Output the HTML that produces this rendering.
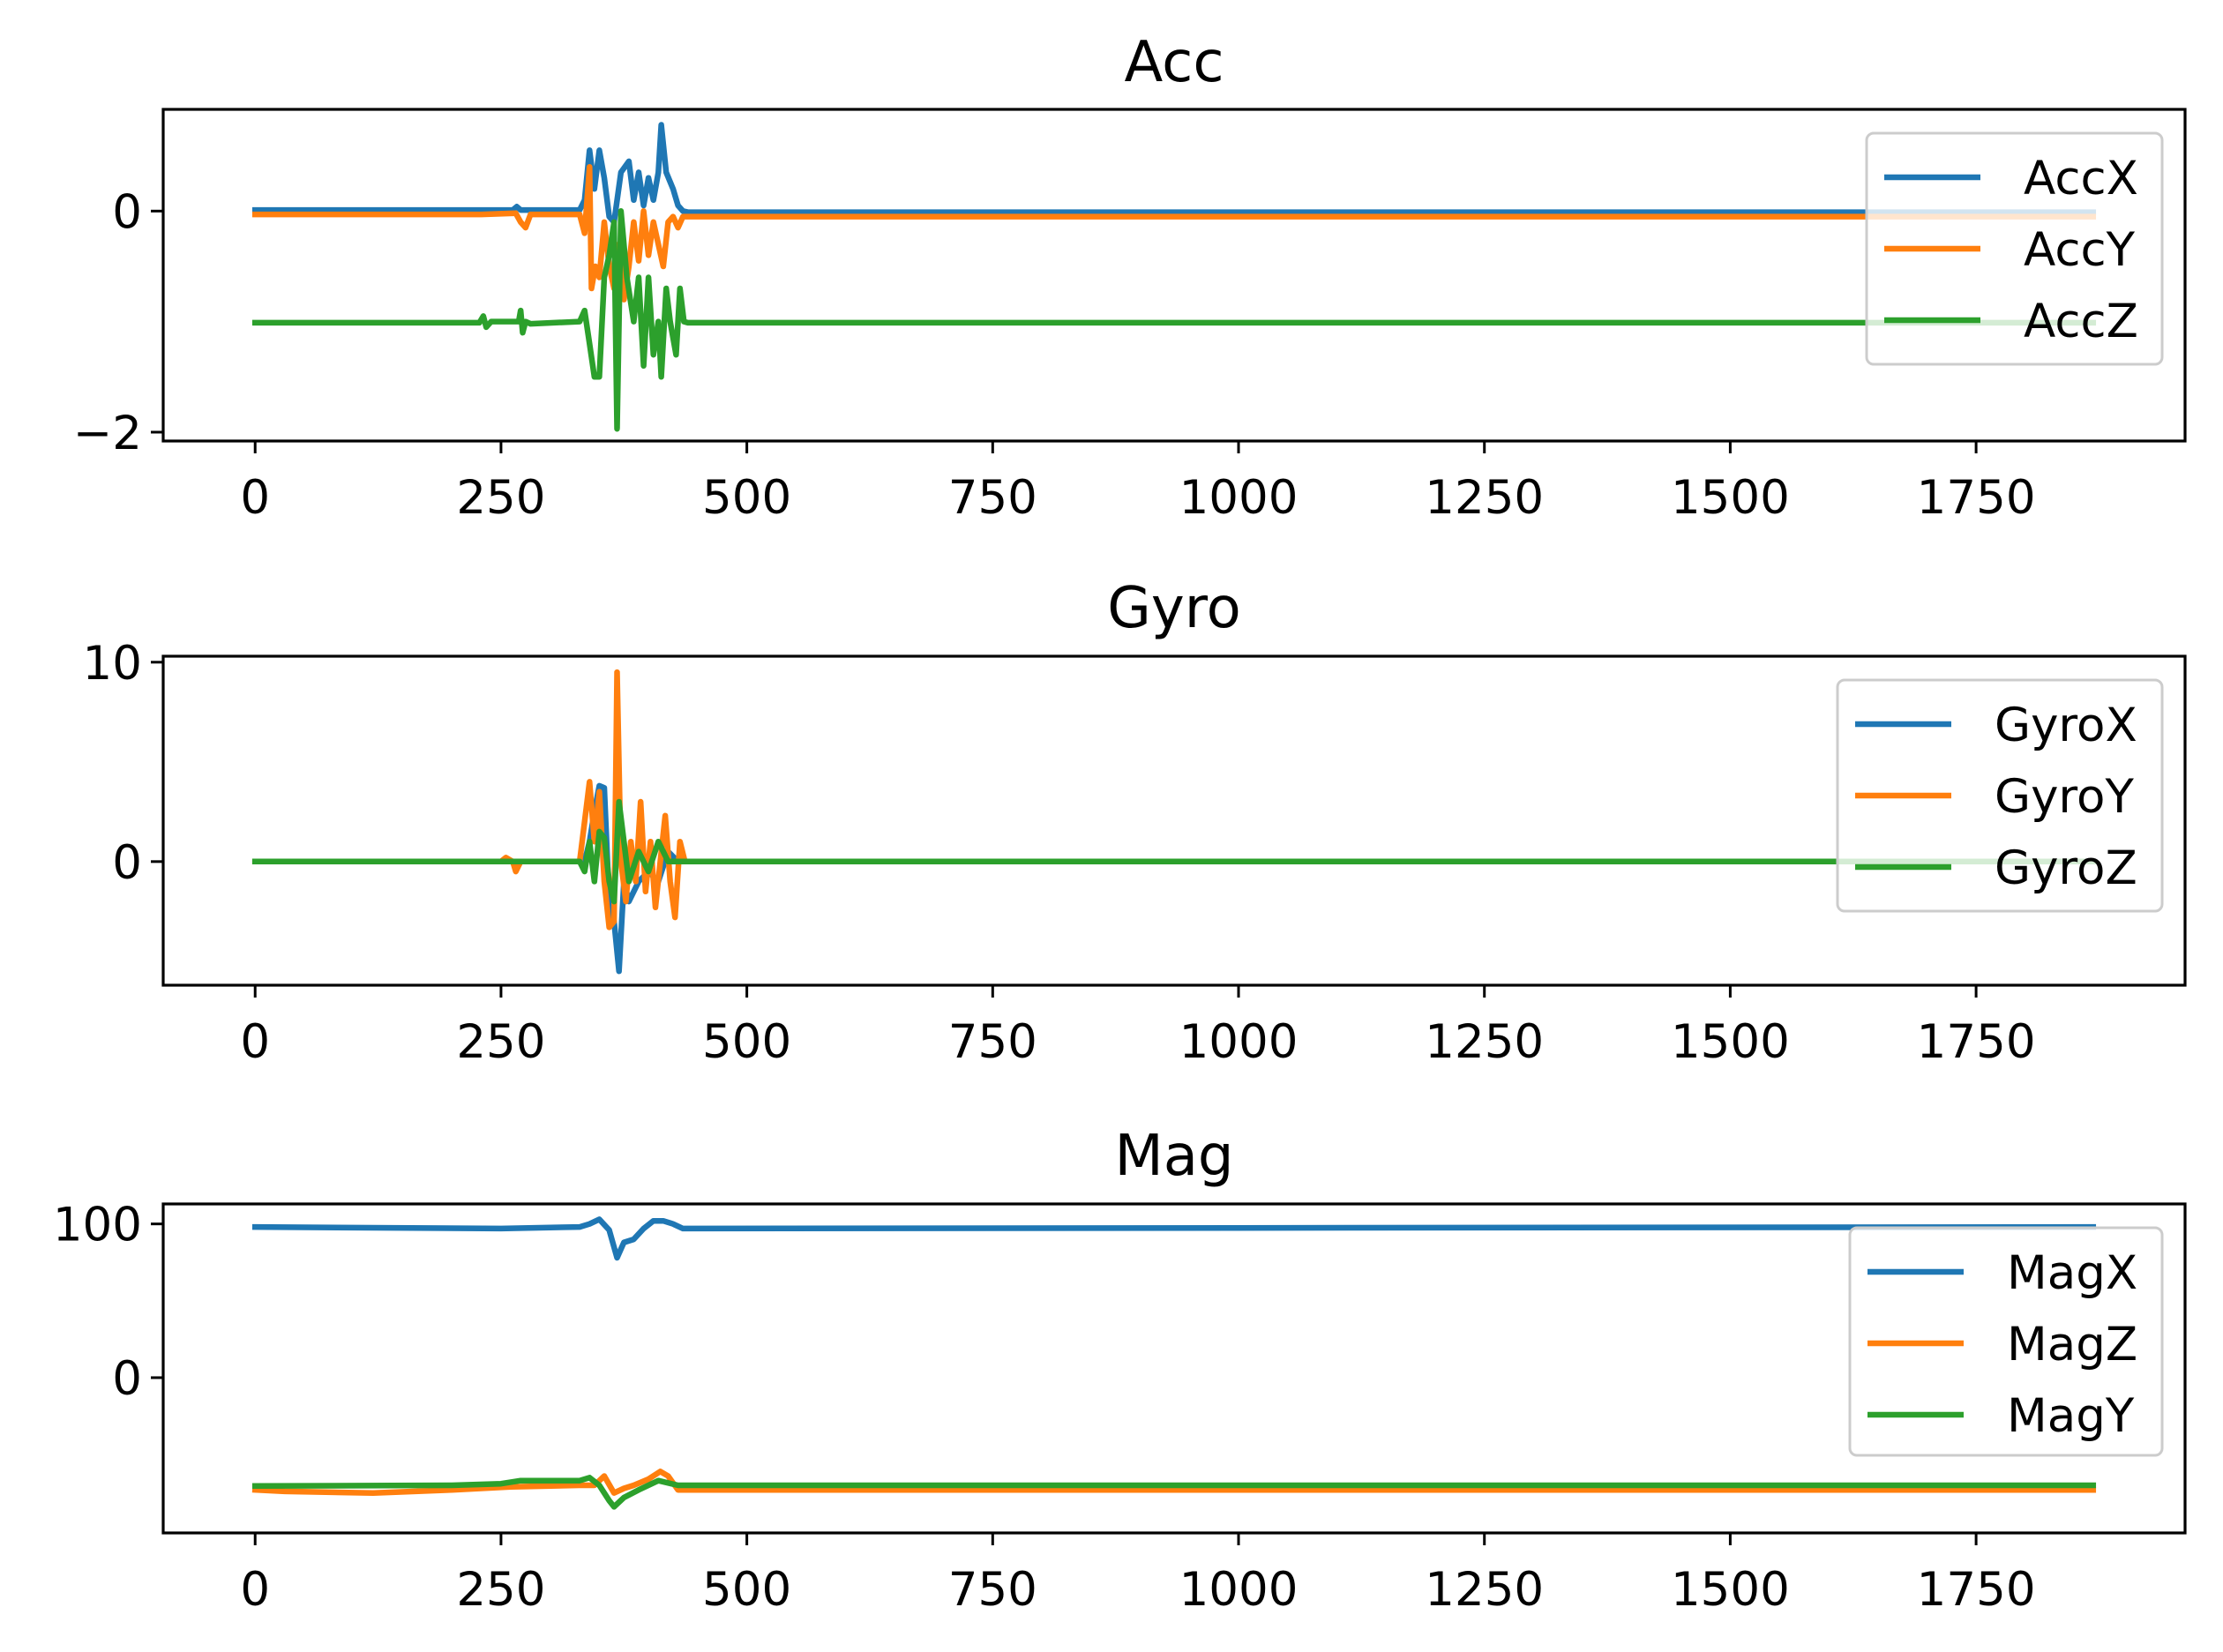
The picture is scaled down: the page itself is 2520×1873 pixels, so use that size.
<!DOCTYPE html>
<html><head><meta charset="utf-8"><style>
html,body{margin:0;padding:0;background:#fff;}
svg{display:block;font-family:"DejaVu Sans","Liberation Sans",sans-serif;}
</style></head><body>
<svg id="chart" width="2520" height="1873" viewBox="0 0 2520 1873" xmlns="http://www.w3.org/2000/svg"></svg>
<script>
// ---- data ----
const N = 1870;
const xTicks = [0, 250, 500, 750, 1000, 1250, 1500, 1750];
// Acc
const accTitle = "Acc";
const accNames = ["AccX", "AccY", "AccZ"];
const accBase = [[0.01, -0.01], [-0.03, -0.05], [-1.01, -1.01]];
const accXk = [230,262,266,270,330,335,340,345,350,355,360,365,372,380,385,390,395,400,405,410,413,418,425,430,435,440];
const accXv = [0.01,0.01,0.04,0.01,0.01,0.1,0.55,0.2,0.55,0.3,-0.05,-0.1,0.35,0.45,0.1,0.35,0.05,0.3,0.1,0.35,0.78,0.35,0.2,0.05,0.0,-0.01];
const accYk = [230,265,270,275,280,330,335,340,342,346,350,355,360,365,370,375,380,385,390,395,400,405,410,415,420,425,430,435,440];
const accYv = [-0.03,-0.02,-0.1,-0.15,-0.03,-0.03,-0.2,0.4,-0.7,-0.5,-0.6,-0.1,-0.5,-0.7,-0.3,-0.8,-0.5,-0.1,-0.45,0.0,-0.4,-0.1,-0.3,-0.5,-0.1,-0.05,-0.15,-0.05,-0.05];
const accZk = [228,232,235,240,268,270,272,275,280,330,335,340,345,350,355,360,365,368,372,378,385,390,395,400,405,410,413,418,422,428,432,436,440];
const accZv = [-1.01,-0.95,-1.05,-1.0,-1.0,-0.9,-1.1,-1.0,-1.02,-1.0,-0.9,-1.2,-1.5,-1.5,-0.6,-0.4,-0.1,-1.97,0.0,-0.6,-1.0,-0.6,-1.4,-0.6,-1.3,-1.0,-1.5,-0.7,-1.0,-1.3,-0.7,-1.0,-1.01];
const accTicks = [0, -2];
// Gyro
const gyroTitle = "Gyro";
const gyroNames = ["GyroX", "GyroY", "GyroZ"];
const gyroBase = [[0,0],[0,0],[0,0]];
const gyroXk = [335,340,345,350,355,360,365,370,375,380,390,400,410,420,430];
const gyroXv = [0,1,2.5,3.8,3.7,-2,-3,-5.5,-1,-2,-1,-0.5,-1,0.5,0];
const gyroYk = [250,255,262,265,270,330,335,340,345,350,355,360,365,368,372,377,382,387,392,397,402,407,412,417,422,427,432,437];
const gyroYv = [0,0.2,0,-0.5,0,0,2,4,1,3.5,-1,-3.3,-3,9.5,0,-2,1,-1,3,-1.5,1,-2.3,0,2.3,-1,-2.8,1,0];
const gyroZk = [330,335,340,345,350,355,360,365,370,375,380,390,400,410,420];
const gyroZv = [0,-0.5,1,-1,1.5,1.2,-1,-2,3,1,-1,0.5,-0.5,1,0];
const gyroTicks = [10, 0];
// Mag
const magTitle = "Mag";
const magNames = ["MagX", "MagZ", "MagY"];
const magBase = [[98,98],[-73,-73],[-70.5,-70]];
const magXk = [250,330,340,350,360,368,375,385,395,405,415,425,435];
const magXv = [97,98,100,103,96,78,88,90,97,102,102,100,97];
const magZk = [30,120,200,260,330,345,355,365,375,385,400,412,420,430];
const magZv = [-74,-75,-73,-71,-70,-70,-64,-75,-72,-70,-66,-61,-64,-73];
const magYk = [200,250,270,330,340,350,360,365,375,390,410,430];
const magYv = [-70,-69,-67,-67,-65,-70,-80,-84,-78,-73,-67,-70];
const magTicks = [100, 0];
</script>
<script>
const NS = "http://www.w3.org/2000/svg";
const svg = document.getElementById("chart");
const colors = ["#1f77b4", "#ff7f0e", "#2ca02c"];
const AX_L = 185, AX_R = 2477;
const xMin = -93.5, xMax = 1962.5;
function sx(v){ return AX_L + (v - xMin) / (xMax - xMin) * (AX_R - AX_L); }
function mk(tag, attrs, parent){
  const e = document.createElementNS(NS, tag);
  for (const k in attrs) e.setAttribute(k, attrs[k]);
  (parent || svg).appendChild(e);
  return e;
}
function series(keys, vals, base){
  const pts = [];
  pts.push([0, base[0]]);
  for (let i = 0; i < keys.length; i++) pts.push([keys[i], vals[i]]);
  pts.push([N-1, base[1]]);
  return pts;
}
function panel(cfg){
  const {top, bottom, yMin, yMax, title, titleY, names, base, ks, vs, ticks, leg} = cfg;
  const sy = v => bottom - (v - yMin) / (yMax - yMin) * (bottom - top);
  const g = mk("g", {});
  
  
  const clipId = "clip-" + title;
  const cp = mk("clipPath", {id: clipId}, g);
  mk("rect", {x: AX_L, y: top, width: AX_R-AX_L, height: bottom-top}, cp);
  const t = mk("text", {x: (AX_L+AX_R)/2, y: titleY, "text-anchor": "middle", "font-size": 64, fill: "#000"}, g);
  t.textContent = title;
  
  
  const lg = mk("g", {"clip-path": "url(#" + clipId + ")"}, g);
  for (let s = 0; s < 3; s++){
    const pts = series(ks[s], vs[s], base[s]);
    const d = pts.map((p,i) => (i ? "L" : "M") + sx(p[0]).toFixed(1) + " " + sy(p[1]).toFixed(1)).join(" ");
    const p = mk("path", {d, fill: "none", stroke: colors[s], "stroke-width": 6.5, "stroke-linejoin": "round", "stroke-linecap": "square"}, lg);
    
    
  }
  const fr = mk("rect", {x: AX_L, y: top, width: AX_R-AX_L, height: bottom-top, fill: "none", stroke: "#000", "stroke-width": 3.2}, g);
  
  
  xTicks.forEach(v => {
    const x = sx(v);
    mk("line", {x1: x, x2: x, y1: bottom, y2: bottom+14, stroke: "#000", "stroke-width": 3}, g);
    const tl = mk("text", {x, y: bottom+82, "text-anchor": "middle", "font-size": 53, fill: "#000"}, g);
    tl.textContent = v;
    
    
  });
  ticks.forEach(v => {
    const y = sy(v);
    mk("line", {x1: AX_L-14, x2: AX_L, y1: y, y2: y, stroke: "#000", "stroke-width": 3}, g);
    const tl = mk("text", {x: AX_L-24, y: y+19, "text-anchor": "end", "font-size": 53, fill: "#000"}, g);
    tl.textContent = v < 0 ? "\u2212" + Math.abs(v) : v;
    
    
  });
  const lgd = mk("g", {}, g);
  
  
  mk("rect", {x: leg.x, y: leg.y, width: leg.w, height: leg.h, rx: 8, fill: "rgba(255,255,255,0.8)", stroke: "#cccccc", "stroke-width": 3}, lgd);
  for (let s = 0; s < 3; s++){
    const y = leg.y + 50 + s * 81;
    mk("line", {x1: leg.x + 20, x2: leg.x + 129, y1: y, y2: y, stroke: colors[s], "stroke-width": 6.5}, lgd);
    const tx = mk("text", {x: leg.x + 178, y: y + 19, "text-anchor": "start", "font-size": 53, fill: "#000"}, lgd);
    tx.textContent = names[s];
    
    
  }
}
panel({top:124, bottom:500, yMin:-2.08, yMax:0.92, title:accTitle, titleY:92, names:accNames, base:accBase,
  ks:[accXk,accYk,accZk], vs:[accXv,accYv,accZv], ticks:accTicks, leg:{x:2116,y:151,w:335,h:262}});
panel({top:744, bottom:1117, yMin:-6.2, yMax:10.3, title:gyroTitle, titleY:711, names:gyroNames, base:gyroBase,
  ks:[gyroXk,gyroYk,gyroZk], vs:[gyroXv,gyroYv,gyroZv], ticks:gyroTicks, leg:{x:2083,y:771,w:368,h:262}});
panel({top:1365, bottom:1738, yMin:-101, yMax:113, title:magTitle, titleY:1332, names:magNames, base:magBase,
  ks:[magXk,magZk,magYk], vs:[magXv,magZv,magYv], ticks:magTicks, leg:{x:2097,y:1392,w:354,h:258}});
</script>
</body></html>
